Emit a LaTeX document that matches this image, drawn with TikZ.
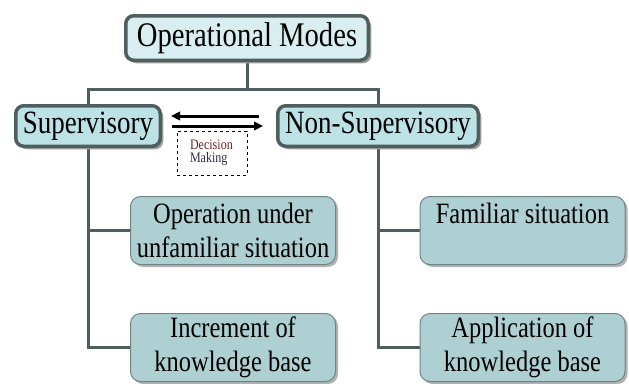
\documentclass[tikz,border=0pt]{standalone}
\usepackage{fontspec}
\setmainfont{Liberation Serif}
\usetikzlibrary{shadows,arrows.meta,backgrounds}
\definecolor{edgegray}{HTML}{4F5E5E}
\definecolor{topfill}{HTML}{D8EEF0}
\definecolor{midfill}{HTML}{BCE2E5}
\definecolor{lowfill}{HTML}{AED0D2}
\definecolor{lowedge}{HTML}{6F8485}
\definecolor{decred}{HTML}{6B1F1F}
\definecolor{decblue}{HTML}{2B2B4B}
\newcommand{\cnd}[1]{\scalebox{0.83}[1]{#1}}
\begin{document}
\begin{tikzpicture}[x=1pt,y=1pt,
  shadeA/.style={drop shadow={shadow xshift=3pt,shadow yshift=-3pt,fill=black!38,opacity=1}},
  shadeB/.style={drop shadow={shadow xshift=2.5pt,shadow yshift=-2.5pt,fill=black!30,opacity=1}},
  topbox/.style={draw=edgegray,line width=3.5pt,rounded corners=8pt,fill=topfill,inner sep=0pt,shadeA},
  midbox/.style={draw=edgegray,line width=3.5pt,rounded corners=8pt,fill=midfill,inner sep=0pt,shadeA,font=\fontsize{32.5}{36}\selectfont},
  lowbox/.style={draw=lowedge,line width=1pt,rounded corners=10pt,fill=lowfill,inner sep=0pt,shadeB,
    minimum width=205pt,minimum height=68pt,align=center,font=\fontsize{29.5}{34}\selectfont},
  trunk/.style={draw=edgegray,line width=3pt},
  arr/.style={line width=3pt,-{Triangle[length=9pt,width=8.5pt]}},
  decbox/.style={draw,dashed,line width=0.8pt,inner xsep=13pt,inner ysep=0pt,text width=44pt,minimum height=44pt,
    align=left,font=\fontsize{14.5}{13.5}\selectfont}
]
\useasboundingbox (0,0) rectangle (629,-383);

\node[topbox,minimum width=242.5pt,minimum height=44.5pt,font=\fontsize{34.5}{38}\selectfont] (opm) at (247,-38) {\cnd{Operational Modes}};
\node[midbox,minimum width=144.5pt,minimum height=40.5pt] (supn) at (88,-126) {\cnd{Supervisory}};
\node[midbox,minimum width=200.5pt,minimum height=40.5pt] (nsupn) at (378,-126) {\cnd{Non-Supervisory}};

\node[lowbox] (l1n) at (233,-230.5) {\cnd{Operation under}\\\cnd{unfamiliar situation}};
\node[lowbox] (l2n) at (233,-347.5) {\cnd{Increment of}\\\cnd{knowledge base}};
\node[lowbox] (r1n) at (522.5,-230.5) {\cnd{Familiar situation}\\\phantom{x}};
\node[lowbox] (r2n) at (522.5,-347.5) {\cnd{Application of}\\\cnd{knowledge base}};

\node[decbox] (dec) at (212,-153) {\cnd{\color{decred}Decision}\\\cnd{\color{decblue}Making}};

\coordinate (junc) at (247,-89);
\coordinate (a1s) at (259,-116);
\coordinate (a1e) at (171,-116);
\coordinate (a2s) at (172,-126);
\coordinate (a2e) at (263,-126);

\begin{scope}[on background layer]
\draw[trunk] (opm.south) -- (junc);
\draw[trunk] (supn.north) |- (junc) -| (nsupn.north);
\draw[trunk] (supn.south) |- (l2n.west);
\draw[trunk] (supn.south |- l1n.west) -- (l1n.west);
\draw[trunk] (nsupn.south) |- (r2n.west);
\draw[trunk] (nsupn.south |- r1n.west) -- (r1n.west);
\end{scope}

\draw[arr] (a1s) -- (a1e);
\draw[arr] (a2s) -- (a2e);
\end{tikzpicture}
\end{document}
